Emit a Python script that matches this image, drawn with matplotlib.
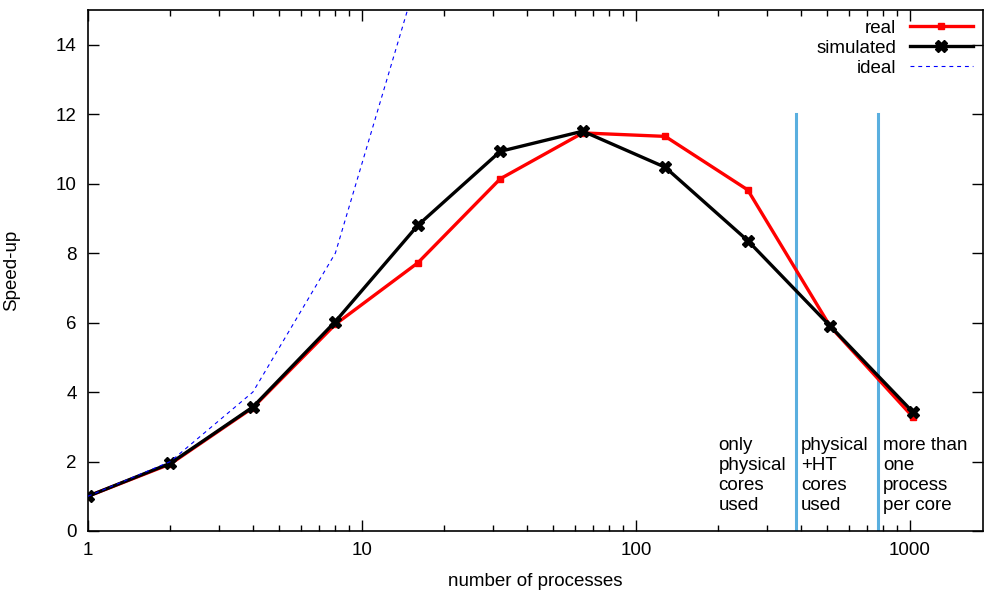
import matplotlib
matplotlib.use("Agg")
import matplotlib.pyplot as plt
from matplotlib.ticker import LogLocator, FixedLocator, NullFormatter

plt.rcParams['font.family'] = ['Liberation Sans', 'DejaVu Sans']

# data
procs = [1, 2, 4, 8, 16, 32, 64, 128, 256, 512, 1024]
real = [1.0, 1.93, 3.55, 5.95, 7.72, 10.14, 11.46, 11.36, 9.82, 5.89, 3.29]
simulated = [1.0, 1.95, 3.57, 6.03, 8.80, 10.93, 11.51, 10.47, 8.36, 5.90, 3.43]
ideal_procs = [1, 2, 4, 8, 16]
ideal = [1, 2, 4, 8, 16]
boundaries = [384, 768]
notes = [(200, "only\nphysical\ncores\nused"),
         (400, "physical\n+HT\ncores\nused"),
         (800, "more than\none\nprocess\nper core")]

fig = plt.figure(figsize=(9.84, 5.93), dpi=100)
ax = fig.add_axes([0.0894, 0.1046, 0.9096, 0.8786])

ax.plot(procs, real, color='red', lw=2.4, marker='s', ms=5, label='real', zorder=3)
ax.plot(procs, simulated, color='black', lw=2.4, marker='X', ms=8.5, label='simulated', zorder=4)
ax.plot(ideal_procs, ideal, color='blue', lw=0.8, ls=(0, (3.5, 3.5)), label='ideal', zorder=5)

for b in boundaries:
    ax.plot([b, b], [0, 12], color='#5aafdf', lw=2.2, zorder=2)

for x, txt in notes:
    ax.text(x, 2.7, txt, ha='left', va='top', fontsize=13.5, linespacing=1.22)

ax.set_xscale('log')
ax.set_xlim(1, 1850)
ax.set_ylim(0, 15)
ax.xaxis.set_major_locator(FixedLocator([1, 10, 100, 1000]))
ax.set_xticklabels(['1', '10', '100', '1000'])
ax.xaxis.set_minor_locator(LogLocator(base=10, subs=range(2, 10)))
ax.xaxis.set_minor_formatter(NullFormatter())
ax.set_yticks(range(0, 15, 2))

ax.tick_params(which='both', direction='in', top=True, right=True, labelsize=13.5, width=1)
ax.tick_params(which='major', length=8, pad=8)
ax.tick_params(which='minor', length=4)
for s in ax.spines.values():
    s.set_linewidth(1.2)

ax.set_xlabel('number of processes', fontsize=13.5, labelpad=10)
ax.set_ylabel('Speed-up', fontsize=13.5, labelpad=26)

ax.legend(loc='upper right', frameon=False, markerfirst=False, fontsize=13.5,
          handlelength=3.4, labelspacing=0.15, borderaxespad=0.12, handletextpad=0.7)

fig.savefig('out.png', dpi=100)
